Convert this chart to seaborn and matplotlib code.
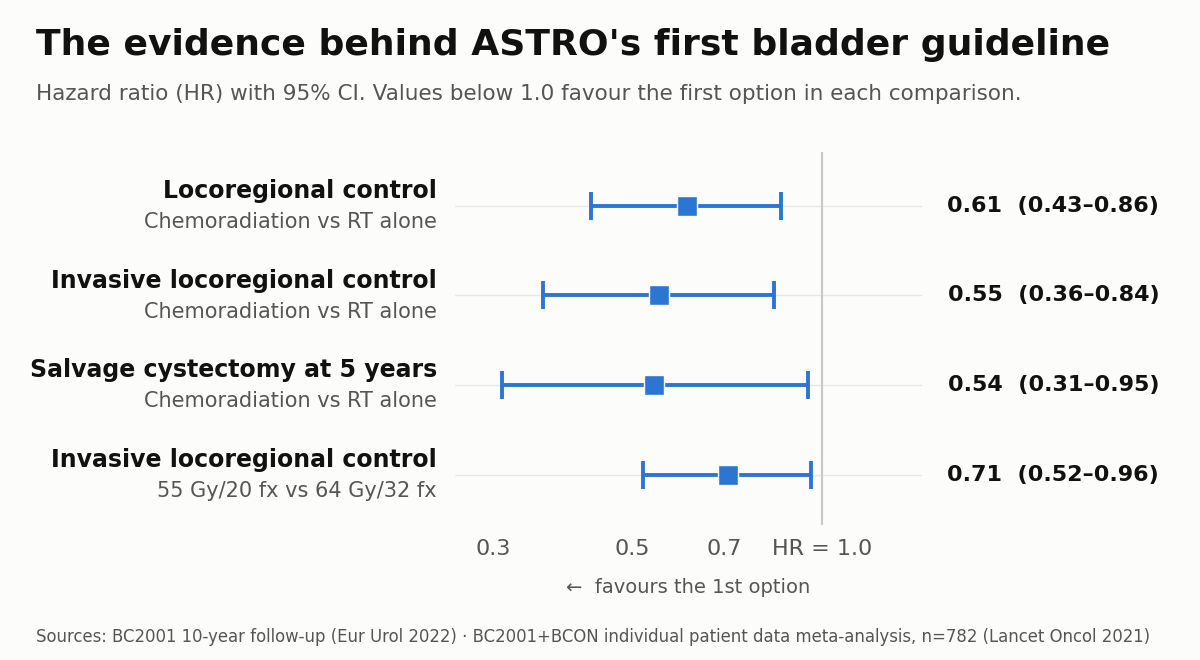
import numpy as np
import pandas as pd
import seaborn as sns
import matplotlib.pyplot as plt

outcomes = ['Locoregional control', 'Invasive locoregional control',
            'Salvage cystectomy at 5 years', 'Invasive locoregional control']
comparisons = ['Chemoradiation vs RT alone', 'Chemoradiation vs RT alone',
               'Chemoradiation vs RT alone', '55 Gy/20 fx vs 64 Gy/32 fx']
hr = [0.61, 0.55, 0.54, 0.71]
lo = [0.43, 0.36, 0.31, 0.52]
hi = [0.86, 0.84, 0.95, 0.96]
ticks = [0.3, 0.5, 0.7, 1.0]
tick_labels = ['0.3', '0.5', '0.7', 'HR = 1.0']

df = pd.DataFrame({'row': range(len(hr)), 'hr': hr, 'lo': lo, 'hi': hi})

bg = '#fcfcfa'
blue = '#2b76d2'
sns.set_theme(style='white')
plt.rcParams['font.family'] = ['DejaVu Sans']

fig = plt.figure(figsize=(12, 6.6), dpi=100, facecolor=bg)
ax = fig.add_axes([0.379, 0.205, 0.389, 0.565], facecolor=bg)

for r in df['row']:
    ax.axhline(r, color='#e8e8e8', lw=1, zorder=0)
ax.axvline(1.0, color='#c8c8c8', lw=1.5, zorder=1)

ax.errorbar(df['hr'], df['row'],
            xerr=[df['hr'] - df['lo'], df['hi'] - df['hr']],
            fmt='none', ecolor=blue, elinewidth=2.8, capsize=10, capthick=2.8, zorder=2)
sns.scatterplot(data=df, x='hr', y='row', marker='s', s=190, color=blue,
                edgecolor=bg, linewidth=1, ax=ax, zorder=3)

ax.set_xscale('log')
ax.set_xlim(0.261, 1.44)
ax.set_ylim(3.56, -0.60)
ax.set_xticks(ticks)
ax.set_xticklabels(tick_labels, fontsize=16, color='#555555')
ax.minorticks_off()
ax.set_yticks([])
ax.tick_params(axis='x', length=0, pad=10)
ax.set_xlabel('←  favours the 1st option', fontsize=14, color='#555555', labelpad=14)
ax.set_ylabel('')
sns.despine(ax=ax, left=True, bottom=True)

for r, (o, c) in enumerate(zip(outcomes, comparisons)):
    y = ax.transData.transform((1, r))[1]
    yf = fig.transFigure.inverted().transform((0, y))[1]
    fig.text(0.364, yf + 0.022, o, ha='right', va='center', fontsize=17,
             fontweight='bold', color='#111111')
    fig.text(0.364, yf - 0.025, c, ha='right', va='center', fontsize=15, color='#555555')
    fig.text(0.966, yf, f'{hr[r]:.2f}  ({lo[r]:.2f}–{hi[r]:.2f})', ha='right',
             va='center', fontsize=16, fontweight='bold', color='#111111')

fig.text(0.03, 0.932, "The evidence behind ASTRO's first bladder guideline",
         fontsize=26, fontweight='bold', color='#111111', va='center')
fig.text(0.03, 0.858, 'Hazard ratio (HR) with 95% CI. Values below 1.0 favour the first option in each comparison.',
         fontsize=15.5, color='#555555', va='center')
fig.text(0.03, 0.035, 'Sources: BC2001 10-year follow-up (Eur Urol 2022) · BC2001+BCON individual patient data meta-analysis, n=782 (Lancet Oncol 2021)',
         fontsize=11.9, color='#555555', va='center')

fig.savefig('out.png', dpi=100, facecolor=bg)
